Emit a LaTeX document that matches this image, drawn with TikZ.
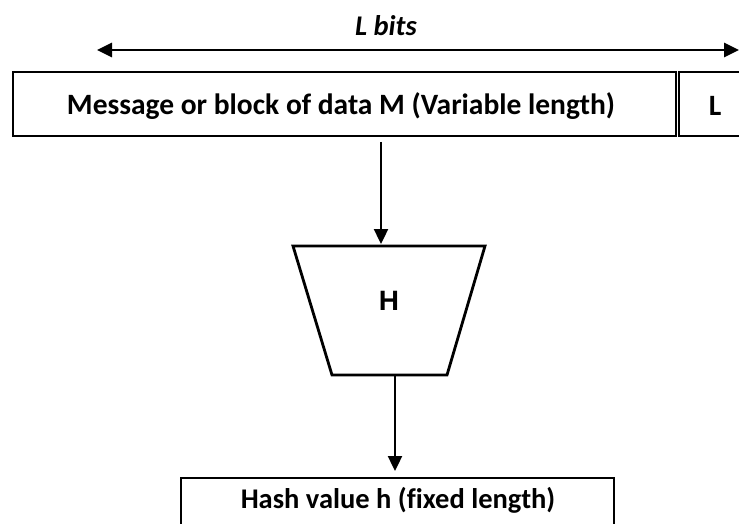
\documentclass[tikz,border=0pt]{standalone}
\usepackage{fontspec}
\setmainfont{Carlito}[Ligatures=NoCommon]
\newfontfamily\arialfont{Liberation Sans}
\usetikzlibrary{arrows.meta}
\begin{document}
\begin{tikzpicture}[x=1pt,y=-1pt,
  box/.style={draw, line width=1.5pt},
  conn/.style={line width=2.4pt, -{Triangle[length=15pt,width=14pt]}},
  dimarrow/.style={line width=2.8pt, {Triangle[length=15pt,width=14pt]}-{Triangle[length=15pt,width=14pt]}},
  lbl/.style={font=\bfseries\fontsize{29.5}{34}\selectfont, inner sep=0pt}]
\useasboundingbox (0,0) rectangle (739,524);
% top dimension
\coordinate (dl) at (97,50);
\coordinate (dr) at (739,50);
\draw[dimarrow] (dl) -- (dr);
\node[lbl, font=\bfseries\itshape\fontsize{28.5}{33}\selectfont] (lbits) at (386,26) {L bits};
% message box
\node[box, minimum width=663pt, minimum height=64pt, inner sep=0pt] (msg) at (344.5,104) {};
\node[lbl] (msgtext) at (341,106) {Message or block of data M (Variable length)};
\node[box, minimum width=80pt, minimum height=64pt, inner sep=0pt] (lbox) at (719,104) {};
\node[lbl] (ltext) at (715,106) {L};
% hash function
\draw[line width=2.8pt] (293,246) -- (485,246) -- (447,375) -- (332,375) -- cycle;
\node[font=\arialfont\bfseries\fontsize{28}{33}\selectfont] (H) at (389,301) {H};
\coordinate (hin) at (381,244);
\coordinate (hout) at (395,375);
\coordinate (mout) at (381,142);
\draw[conn] (mout) -- (hin);
% output box
\draw[box] (181,560) |- (614,478) -- (614,560);
\node[lbl, font=\bfseries\fontsize{28.5}{33}\selectfont] (hash) at (398,500) {Hash value h (fixed length)};
\coordinate (hashin) at (395,471);
\draw[conn] (hout) -- (hashin);
\end{tikzpicture}
\end{document}
